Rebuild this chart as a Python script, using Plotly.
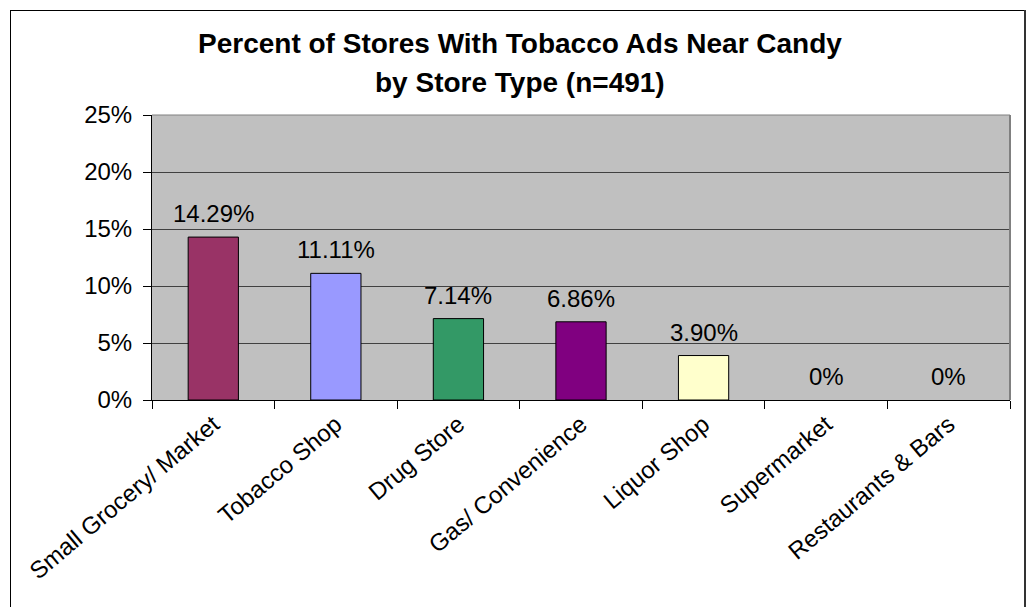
import plotly.graph_objects as go

# Store types and share of stores with tobacco ads near candy (percent)
store_types = [
    "Small Grocery/ Market",
    "Tobacco Shop",
    "Drug Store",
    "Gas/ Convenience",
    "Liquor Shop",
    "Supermarket",
    "Restaurants & Bars",
]
percent_with_ads = [14.29, 11.11, 7.14, 6.86, 3.90, 0, 0]
bar_colors = ["#993366", "#9999FF", "#339966", "#800080", "#FFFFCC", "#C0C0C0", "#C0C0C0"]
y_ticks = [0, 5, 10, 15, 20, 25]

FONT = "Liberation Sans, Arial, sans-serif"
W, H = 1027, 607
L, R, T, B = 152, 17, 115, 207
plot_w = W - L - R
plot_h = H - T - B


def px_x(px):
    return (px - L) / plot_w


def px_y(py):
    return (H - B - py) / plot_h


def value_label(v):
    return f"{v:.2f}%" if v > 0 else "0%"


fig = go.Figure(
    go.Bar(
        x=store_types,
        y=percent_with_ads,
        width=0.41,
        marker=dict(
            color=bar_colors,
            line=dict(color="#000000", width=[1 if v > 0 else 0 for v in percent_with_ads]),
        ),
        hoverinfo="x+y",
    )
)

annotations = []
for cat, v in zip(store_types, percent_with_ads):
    annotations.append(
        dict(
            x=cat, y=v, xref="x", yref="y",
            text=value_label(v), showarrow=False,
            yanchor="bottom", yshift=8,
            font=dict(family=FONT, size=24, color="#000000"),
        )
    )

# two-line bold title
annotations.append(dict(
    x=px_x(520), y=px_y(44), xref="paper", yref="paper",
    text="<b>Percent of Stores With Tobacco Ads Near Candy</b>",
    showarrow=False, xanchor="center", yanchor="middle",
    font=dict(family=FONT, size=28, color="#000000"),
))
annotations.append(dict(
    x=px_x(520), y=px_y(82), xref="paper", yref="paper",
    text="<b>by Store Type (n=491)</b>",
    showarrow=False, xanchor="center", yanchor="middle",
    font=dict(family=FONT, size=28, color="#000000"),
))

shapes = [
    # gray top and right edges of the plot area
    dict(type="line", xref="paper", yref="paper", x0=0, x1=1, y0=1, y1=1,
         line=dict(color="#808080", width=1)),
    dict(type="line", xref="paper", yref="paper", x0=1, x1=1, y0=0, y1=1,
         line=dict(color="#808080", width=2)),
    # outer chart frame
    dict(type="line", xref="paper", yref="paper",
         x0=px_x(10.5), x1=px_x(10.5), y0=px_y(10), y1=px_y(620),
         line=dict(color="#000000", width=1)),
    dict(type="line", xref="paper", yref="paper",
         x0=px_x(10), x1=px_x(1026), y0=px_y(10.5), y1=px_y(10.5),
         line=dict(color="#000000", width=1)),
    dict(type="line", xref="paper", yref="paper",
         x0=px_x(1025), x1=px_x(1025), y0=px_y(10), y1=px_y(620),
         line=dict(color="#333333", width=2)),
]

fig.update_layout(
    width=W, height=H,
    margin=dict(l=L, r=R, t=T, b=B, pad=0),
    paper_bgcolor="#FFFFFF",
    plot_bgcolor="#C0C0C0",
    showlegend=False,
    annotations=annotations,
    shapes=shapes,
    font=dict(family=FONT, color="#000000"),
)

fig.update_xaxes(
    type="category",
    tickson="boundaries",
    ticks="outside", ticklen=8, tickcolor="#000000", tickwidth=1,
    tickangle=-40,
    tickfont=dict(family=FONT, size=24, color="#000000"),
    showline=True, linecolor="#000000", linewidth=1,
    showgrid=False,
)

fig.update_yaxes(
    range=[0, 25],
    tickvals=y_ticks,
    ticktext=[f"{t}%" for t in y_ticks],
    ticks="outside", ticklen=8, tickcolor="#000000", tickwidth=1,
    tickfont=dict(family=FONT, size=24, color="#000000"),
    ticklabelstandoff=6,
    showline=True, linecolor="#000000", linewidth=1,
    showgrid=True, gridcolor="#404040", gridwidth=1,
    zeroline=False,
)

fig.write_html("out.html")
